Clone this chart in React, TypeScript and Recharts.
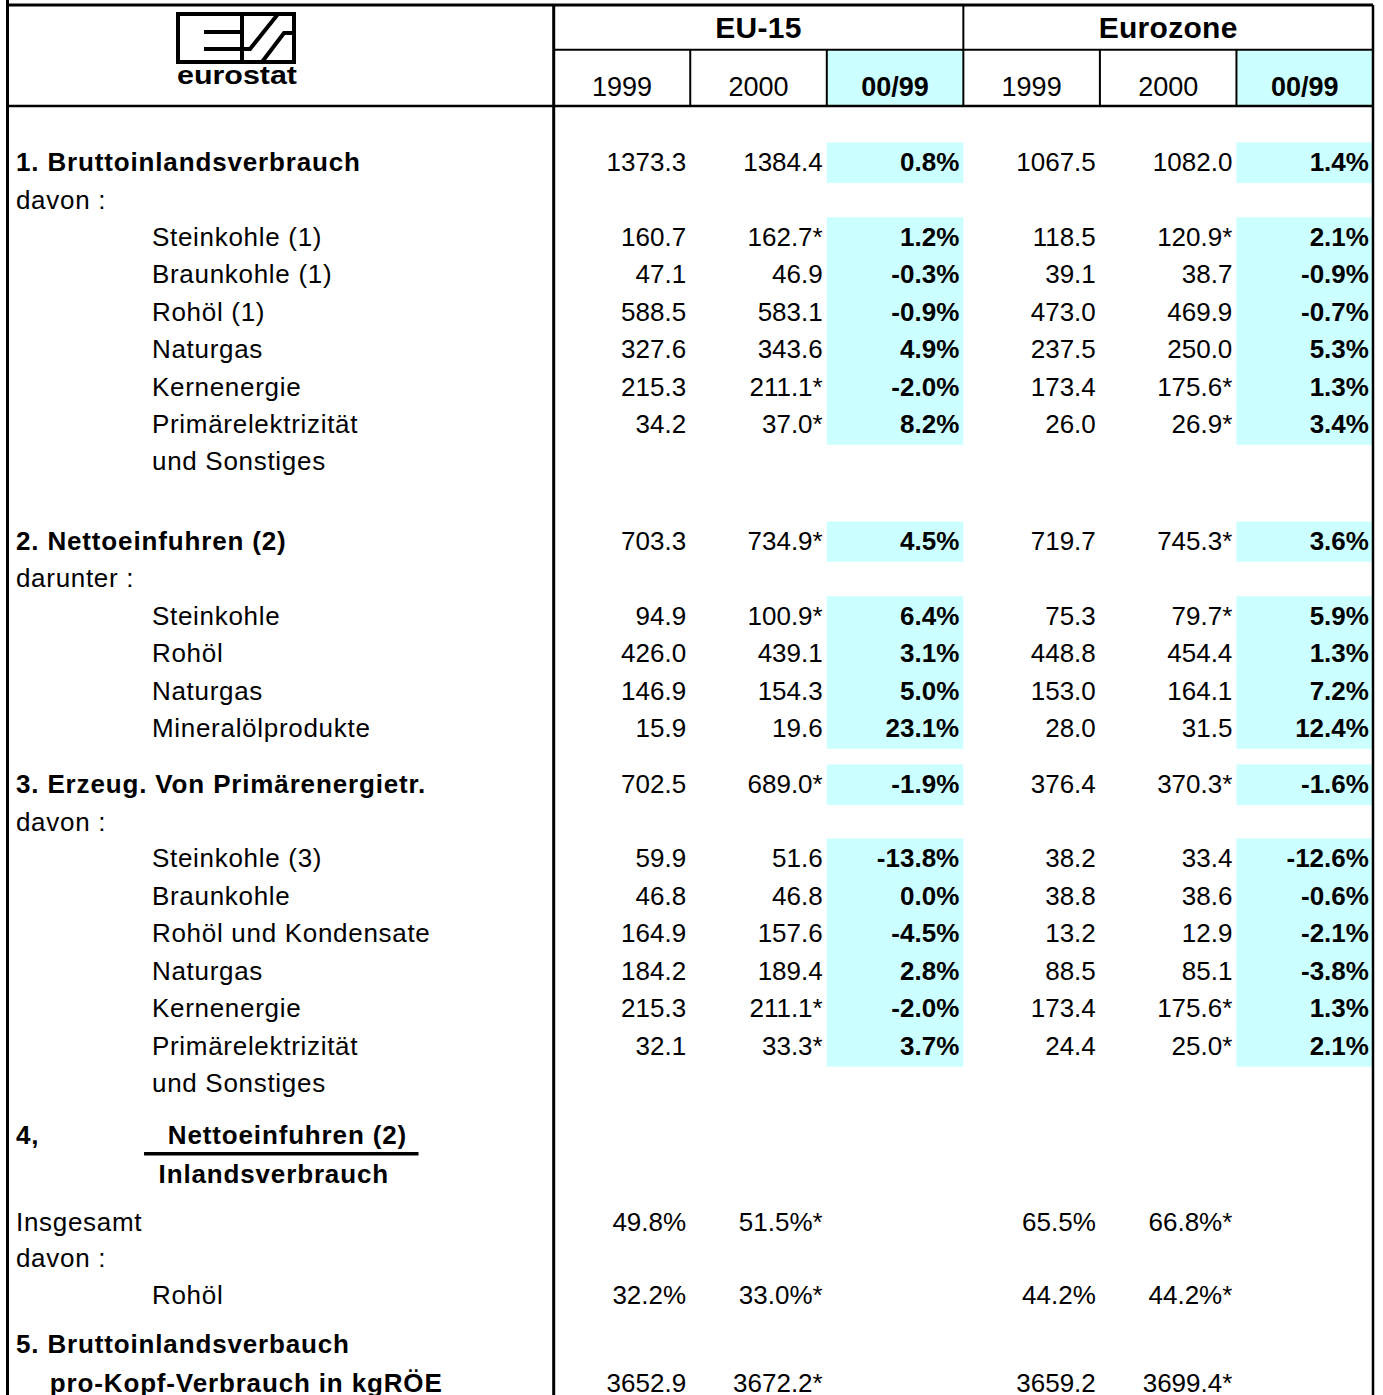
import {
  Customized,
  ReferenceArea,
  ReferenceLine,
  Scatter,
  ScatterChart,
  XAxis,
  YAxis,
} from "recharts";

const FONT = "'Liberation Sans', Arial, Helvetica, sans-serif";

// --- data ---------------------------------------------------------------

const groups = ["EU-15", "Eurozone"];
const periods = ["1999", "2000", "00/99"];

const labels = [
  "1. Bruttoinlandsverbrauch",
  "davon :",
  "Steinkohle (1)",
  "Braunkohle (1)",
  "Rohöl (1)",
  "Naturgas",
  "Kernenergie",
  "Primärelektrizität",
  "und Sonstiges",
  "2. Nettoeinfuhren (2)",
  "darunter :",
  "Steinkohle",
  "Rohöl",
  "Naturgas",
  "Mineralölprodukte",
  "3. Erzeug. Von Primärenergietr.",
  "davon :",
  "Steinkohle (3)",
  "Braunkohle",
  "Rohöl und Kondensate",
  "Naturgas",
  "Kernenergie",
  "Primärelektrizität",
  "und Sonstiges",
  "4,",
  "Inlandsverbrauch",
  "Insgesamt",
  "davon :",
  "Rohöl",
  "5. Bruttoinlandsverbauch",
  "pro-Kopf-Verbrauch in kgRÖE",
];

const labelKinds = [
  "head", "text", "item", "item", "item", "item", "item", "item", "item",
  "head", "text", "item", "item", "item", "item",
  "head", "text", "item", "item", "item", "item", "item", "item", "item",
  "head", "ratio", "text", "text", "item",
  "head", "headIndent",
];

const ratioNumerator = "Nettoeinfuhren (2)";

const eu1999 = [
  1373.3, null, 160.7, 47.1, 588.5, 327.6, 215.3, 34.2, null,
  703.3, null, 94.9, 426.0, 146.9, 15.9,
  702.5, null, 59.9, 46.8, 164.9, 184.2, 215.3, 32.1, null,
  null, null, 49.8, null, 32.2,
  null, 3652.9,
];
const eu2000 = [
  1384.4, null, 162.7, 46.9, 583.1, 343.6, 211.1, 37.0, null,
  734.9, null, 100.9, 439.1, 154.3, 19.6,
  689.0, null, 51.6, 46.8, 157.6, 189.4, 211.1, 33.3, null,
  null, null, 51.5, null, 33.0,
  null, 3672.2,
];
const euChange = [
  0.8, null, 1.2, -0.3, -0.9, 4.9, -2.0, 8.2, null,
  4.5, null, 6.4, 3.1, 5.0, 23.1,
  -1.9, null, -13.8, 0.0, -4.5, 2.8, -2.0, 3.7, null,
  null, null, null, null, null,
  null, null,
];
const ez1999 = [
  1067.5, null, 118.5, 39.1, 473.0, 237.5, 173.4, 26.0, null,
  719.7, null, 75.3, 448.8, 153.0, 28.0,
  376.4, null, 38.2, 38.8, 13.2, 88.5, 173.4, 24.4, null,
  null, null, 65.5, null, 44.2,
  null, 3659.2,
];
const ez2000 = [
  1082.0, null, 120.9, 38.7, 469.9, 250.0, 175.6, 26.9, null,
  745.3, null, 79.7, 454.4, 164.1, 31.5,
  370.3, null, 33.4, 38.6, 12.9, 85.1, 175.6, 25.0, null,
  null, null, 66.8, null, 44.2,
  null, 3699.4,
];
const ezChange = [
  1.4, null, 2.1, -0.9, -0.7, 5.3, 1.3, 3.4, null,
  3.6, null, 5.9, 1.3, 7.2, 12.4,
  -1.6, null, -12.6, -0.6, -2.1, -3.8, 1.3, 2.1, null,
  null, null, null, null, null,
  null, null,
];

// rows whose 2000 figure is marked with "*"
const provisionalRows = [2, 6, 7, 9, 11, 15, 21, 22, 26, 28, 30];
// rows given as shares (%)
const percentRows = [26, 28];

// --- layout -------------------------------------------------------------

const W = 1383;
const H = 1395;
const LINE_PX = 37.4;
const FIRST_ROW_PX = 162;
const Y_DOMAIN = [-FIRST_ROW_PX / LINE_PX, (H - FIRST_ROW_PX) / LINE_PX];

// vertical text line of each row (1 = one text line)
const rowLine = [
  0, 1, 2, 3, 4, 5, 6, 7, 8,
  10.13, 11.13, 12.13, 13.13, 14.13, 15.13,
  16.63, 17.63, 18.61, 19.61, 20.61, 21.62, 22.62, 23.63, 24.63,
  26.02, 27.06, 28.34, 29.3, 30.3,
  31.6, 32.65,
];

const HEAD_TOP = -4.2;
const GROUP_LINE = -3.0;
const HEAD_BOTTOM = -1.5;
const RATIO_BAR = 26.52;

const labelX: Record<string, number> = {
  head: 0.062,
  text: 0.062,
  item: 1.058,
  headIndent: 0.31,
  ratio: 1.95,
};

const fmt = (v: number, unit = "") => `${v.toFixed(1)}${unit}`;

type Cell = { x: number; y: number; text: string };

function columnCells(values: (number | null)[], col: number, kind: "year" | "recent" | "change"): Cell[] {
  const out: Cell[] = [];
  values.forEach((v, i) => {
    if (v === null) return;
    const unit = kind === "change" || percentRows.includes(i) ? "%" : "";
    const star = kind === "recent" && provisionalRows.includes(i) ? "*" : "";
    out.push({ x: col + 1 - 0.03, y: rowLine[i], text: fmt(v, unit) + star });
  });
  return out;
}

const valueColumns = [
  { cells: columnCells(eu1999, 4, "year"), bold: false },
  { cells: columnCells(eu2000, 5, "recent"), bold: false },
  { cells: columnCells(euChange, 6, "change"), bold: true },
  { cells: columnCells(ez1999, 7, "year"), bold: false },
  { cells: columnCells(ez2000, 8, "recent"), bold: false },
  { cells: columnCells(ezChange, 9, "change"), bold: true },
];

const labelCells = labels.map((text, i) => ({
  x: labelX[labelKinds[i]],
  y: rowLine[i],
  text,
  kind: labelKinds[i],
}));

const groupCells = groups.map((text, g) => ({ x: 5.5 + g * 3, y: -3.6, text }));
const periodCells = groups.flatMap((_, g) =>
  periods.map((text, p) => ({ x: 4.5 + g * 3 + p, y: -2.03, text, bold: p === 2 }))
);

const changeCols = [6, 9];

// --- drawing ------------------------------------------------------------

function TextMark(props: any) {
  const { cx, cy, payload, anchor, size, bold, spacing } = props;
  if (cx == null || cy == null) return null;
  return (
    <text
      x={cx}
      y={cy + size * 0.355}
      textAnchor={anchor}
      fontFamily={FONT}
      fontSize={size}
      fontWeight={bold ? 700 : 400}
      letterSpacing={spacing ?? 0}
      fill="#000"
    >
      {payload.text}
    </text>
  );
}

function LabelMark(props: any) {
  const { payload } = props;
  const bold = payload.kind === "head" || payload.kind === "headIndent" || payload.kind === "ratio";
  return (
    <TextMark
      {...props}
      anchor={payload.kind === "ratio" ? "middle" : "start"}
      size={26}
      bold={bold}
      spacing={bold ? 0.85 : 0.7}
    />
  );
}

function Logo() {
  return (
    <g stroke="#000" fill="none" strokeWidth={4} strokeLinecap="butt">
      <rect x={178} y={14} width={116} height={48} />
      <line x1={204} y1={32} x2={242} y2={32} />
      <line x1={242} y1={14} x2={242} y2={62} />
      <polyline points="204,49 250,49 278,14" />
      <polyline points="262,62 284,33 294,33" />
      <text
        x={237}
        y={84}
        textAnchor="middle"
        fontFamily={FONT}
        fontSize={25}
        fontWeight={700}
        stroke="none"
        fill="#000"
        textLength={120}
        lengthAdjust="spacingAndGlyphs"
      >
        eurostat
      </text>
    </g>
  );
}

const seg = (x1: number, y1: number, x2: number, y2: number, w: number, key: string) => (
  <ReferenceLine
    key={key}
    segment={[{ x: x1, y: y1 }, { x: x2, y: y2 }]}
    stroke="#000"
    strokeWidth={w}
    ifOverflow="visible"
  />
);

export default function App() {
  const changeRows = euChange.map((v, i) => (v === null ? -1 : i)).filter((i) => i >= 0);

  return (
    <div style={{ width: W, height: H, background: "#fff", overflow: "hidden" }}>
      <style>{"body{margin:0;overflow:hidden}"}</style>
      <ScatterChart width={W} height={H} margin={{ top: 0, right: 10, bottom: 0, left: 7.5 }}>
        <XAxis type="number" dataKey="x" domain={[0, 10]} hide allowDataOverflow />
        <YAxis type="number" dataKey="y" domain={Y_DOMAIN} reversed hide allowDataOverflow />

        {changeCols.map((c) => (
          <ReferenceArea
            key={`hc${c}`}
            x1={c}
            x2={c + 1}
            y1={GROUP_LINE}
            y2={HEAD_BOTTOM}
            fill="#ccffff"
            fillOpacity={1}
            stroke="none"
            ifOverflow="visible"
          />
        ))}
        {changeCols.flatMap((c) =>
          changeRows.map((i) => (
            <ReferenceArea
              key={`c${c}-${i}`}
              x1={c}
              x2={c + 1}
              y1={rowLine[i] - 0.52}
              y2={rowLine[i] + 0.56}
              fill="#ccffff"
              fillOpacity={1}
              stroke="none"
              ifOverflow="visible"
            />
          ))
        )}

        {seg(0, HEAD_TOP, 10, HEAD_TOP, 3, "top")}
        {seg(0, HEAD_BOTTOM, 10, HEAD_BOTTOM, 2.5, "hb")}
        {seg(4, GROUP_LINE, 10, GROUP_LINE, 2, "gl")}
        {seg(0, Y_DOMAIN[0], 0, Y_DOMAIN[1], 3, "left")}
        {seg(4, HEAD_TOP, 4, Y_DOMAIN[1], 3, "div")}
        {seg(10, HEAD_TOP, 10, Y_DOMAIN[1], 2.5, "right")}
        {seg(7, HEAD_TOP, 7, HEAD_BOTTOM, 2, "mid")}
        {[5, 6, 8, 9].map((x) => seg(x, GROUP_LINE, x, HEAD_BOTTOM, 2, `v${x}`))}
        {seg(1, RATIO_BAR, 3.01, RATIO_BAR, 3.5, "ratio")}

        <Scatter
          data={groupCells}
          isAnimationActive={false}
          shape={(p: any) => <TextMark {...p} anchor="middle" size={30} bold spacing={0.3} />}
        />
        <Scatter
          data={periodCells}
          isAnimationActive={false}
          shape={(p: any) => <TextMark {...p} anchor="middle" size={27} bold={p.payload.bold} />}
        />
        <Scatter data={labelCells} isAnimationActive={false} shape={(p: any) => <LabelMark {...p} />} />
        <Scatter
          data={[{ x: 2.05, y: rowLine[24], text: ratioNumerator }]}
          isAnimationActive={false}
          shape={(p: any) => <TextMark {...p} anchor="middle" size={26} bold spacing={0.85} />}
        />
        {valueColumns.map((col, k) => (
          <Scatter
            key={`col${k}`}
            data={col.cells}
            isAnimationActive={false}
            shape={(p: any) => <TextMark {...p} anchor="end" size={26} bold={col.bold} />}
          />
        ))}
        <Customized component={<Logo />} />
      </ScatterChart>
    </div>
  );
}
